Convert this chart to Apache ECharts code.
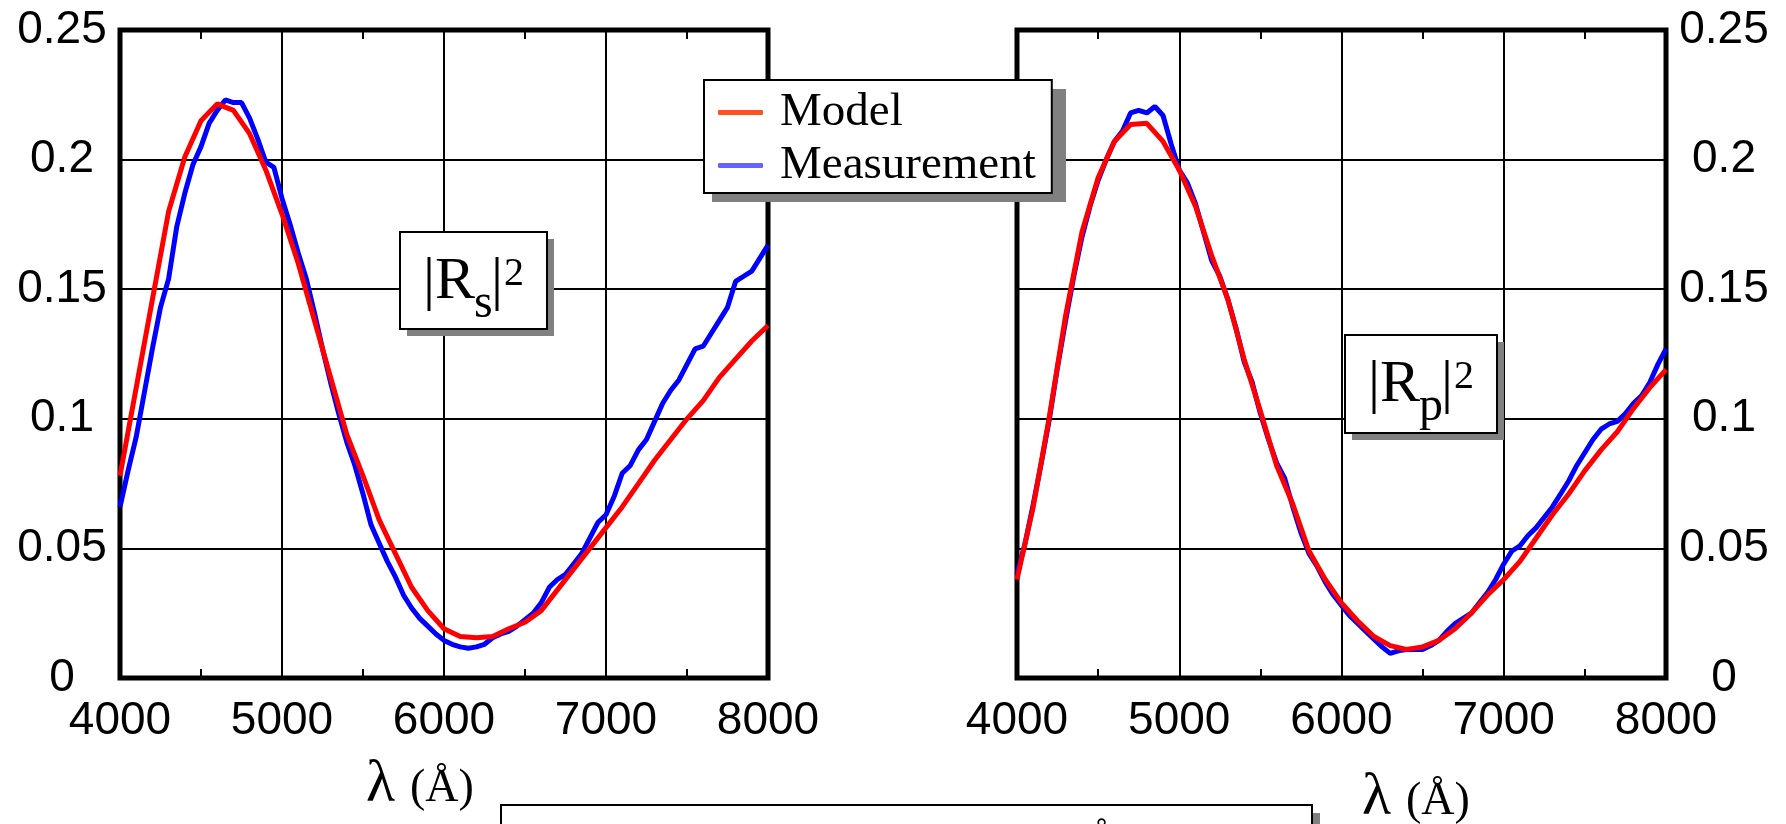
<!DOCTYPE html>
<html><head><meta charset="utf-8">
<script src="https://cdn.jsdelivr.net/npm/echarts@6/dist/echarts.min.js"></script>
<style>html,body{margin:0;padding:0;background:#fff}#c{width:1786px;height:824px}</style>
</head><body><div id="c"></div>
<script>
// ---- data ----
const wavelengthModel = [4000,4100,4200,4300,4400,4500,4600,4700,4800,4900,5000,5100,5200,5300,5400,5500,5600,5700,5800,5900,6000,6100,6200,6300,6400,6500,6600,6700,6800,6900,7000,7100,7200,7300,7400,7500,7600,7700,7800,7900,8000];
const rsModel = [0.078,0.112,0.146,0.180,0.201,0.215,0.2215,0.219,0.210,0.196,0.179,0.160,0.138,0.116,0.094,0.078,0.061,0.048,0.035,0.026,0.019,0.016,0.0155,0.016,0.019,0.0215,0.026,0.034,0.042,0.050,0.058,0.066,0.075,0.084,0.092,0.100,0.107,0.116,0.123,0.130,0.136];
const rpModel = [0.038,0.066,0.101,0.140,0.172,0.193,0.207,0.2135,0.214,0.207,0.196,0.182,0.163,0.146,0.123,0.103,0.082,0.067,0.049,0.038,0.029,0.022,0.016,0.0125,0.011,0.012,0.0145,0.019,0.025,0.032,0.038,0.045,0.054,0.063,0.071,0.080,0.088,0.095,0.104,0.112,0.119];
const wavelengthMeas = [4000,4050,4100,4150,4200,4250,4300,4350,4400,4450,4500,4550,4600,4650,4700,4750,4800,4850,4900,4950,5000,5050,5100,5150,5200,5250,5300,5350,5400,5450,5500,5550,5600,5650,5700,5750,5800,5850,5900,5950,6000,6050,6100,6150,6200,6250,6300,6350,6400,6450,6500,6550,6600,6650,6700,6750,6800,6850,6900,6950,7000,7050,7100,7150,7200,7250,7300,7350,7400,7450,7500,7550,7600,7650,7700,7750,7800,7850,7900,7950,8000];
const rsMeas = [0.066,0.080,0.093,0.110,0.127,0.143,0.154,0.174,0.187,0.198,0.205,0.214,0.219,0.223,0.222,0.222,0.216,0.208,0.199,0.197,0.185,0.175,0.164,0.154,0.141,0.127,0.114,0.102,0.091,0.082,0.071,0.059,0.052,0.045,0.039,0.032,0.027,0.023,0.020,0.017,0.0145,0.013,0.012,0.0115,0.012,0.013,0.0155,0.017,0.018,0.020,0.0225,0.025,0.029,0.035,0.038,0.040,0.044,0.048,0.054,0.060,0.063,0.070,0.079,0.082,0.088,0.092,0.099,0.106,0.111,0.115,0.121,0.127,0.128,0.133,0.138,0.143,0.153,0.155,0.157,0.162,0.167];
const rpMeas = [0.040,0.052,0.067,0.083,0.100,0.120,0.138,0.155,0.170,0.182,0.192,0.200,0.207,0.211,0.218,0.219,0.218,0.2205,0.217,0.206,0.196,0.191,0.183,0.172,0.161,0.155,0.146,0.135,0.122,0.114,0.102,0.092,0.083,0.077,0.066,0.056,0.048,0.043,0.037,0.032,0.028,0.024,0.021,0.018,0.015,0.012,0.0095,0.0105,0.011,0.011,0.011,0.0125,0.0145,0.018,0.021,0.023,0.025,0.029,0.033,0.038,0.044,0.049,0.051,0.055,0.058,0.062,0.066,0.071,0.076,0.082,0.087,0.092,0.096,0.098,0.099,0.102,0.106,0.109,0.114,0.121,0.127];
const xRange = [4000, 8000];
const xStep = 1000;
const yRange = [0, 0.25];
const yStep = 0.05;
const seriesNames = ['Model', 'Measurement'];
const panelLabels = [{base:'|R', sub:'s', bar:'|', sup:'2'}, {base:'|R', sub:'p', bar:'|', sup:'2'}];
const axisTitleMain = 'λ';
const axisTitleUnit = '(Å)';

// ---- build ----
const SANS = "'Liberation Sans', Arial, sans-serif";
const SERIF = "'Liberation Serif', 'Times New Roman', serif";
const pairs = (xs, ys) => xs.map((x, i) => [x, ys[i]]);

function xAxisDef(grid, pos) {
  const bottom = pos === 'bottom';
  return {
    gridIndex: grid, type: 'value', position: pos, min: xRange[0], max: xRange[1], interval: xStep,
    axisLine: {show: false},
    axisTick: {show: true, inside: true, length: 9, lineStyle: {color: '#000', width: 2}},
    minorTick: {show: true, splitNumber: 2, length: 9, lineStyle: {color: '#000', width: 2}},
    splitLine: {show: bottom, lineStyle: {color: '#000', width: 2}},
    axisLabel: {show: bottom, fontSize: 46, fontFamily: SANS, color: '#000', margin: 20,
      formatter: v => String(v)}
  };
}
function yAxisDef(grid, pos) {
  return {
    gridIndex: grid, type: 'value', position: pos, min: yRange[0], max: yRange[1], interval: yStep,
    axisLine: {show: false}, axisTick: {show: false},
    splitLine: {show: true, lineStyle: {color: '#000', width: 2}},
    axisLabel: {fontSize: 46, fontFamily: SANS, color: '#000', margin: 58, align: 'center',
      padding: [8, 0, 0, 0]}
  };
}

function labelBox(bx, by, w, h, lab, extra) {
  const els = [];
  els.push({type: 'rect', z: 20, shape: {x: bx + 7, y: by + 7, width: w, height: h}, style: {fill: '#808080'}});
  els.push({type: 'rect', z: 21, shape: {x: bx, y: by, width: w, height: h}, style: {fill: '#fff', stroke: '#000', lineWidth: 2}});
  const t = (txt, x, y, size) => ({type: 'text', z: 22, x: x, y: y,
    style: {text: txt, font: size + 'px ' + SERIF, fill: '#000', align: 'left', verticalAlign: 'middle'}});
  els.push(t(lab.base, bx + 23, by + 50, 60));
  els.push(t(lab.sub, bx + 74, by + 72, 48));
  els.push(t(lab.bar, bx + 91 + extra, by + 50, 60));
  els.push(t(lab.sup, bx + 104 + extra, by + 42, 40));
  return els;
}
function lambdaLabel(x, baseline) {
  return [
    {type: 'text', z: 22, x: x, y: baseline - 20, style: {text: axisTitleMain, font: '60px ' + SERIF, fill: '#000', align: 'left', verticalAlign: 'middle'}},
    {type: 'text', z: 22, x: x + 44, y: baseline - 16, style: {text: axisTitleUnit, font: '46px ' + SERIF, fill: '#000', align: 'left', verticalAlign: 'middle'}}
  ];
}

const graphics = [].concat(
  [{type: 'rect', z: 9, shape: {x: 712, y: 89, width: 354, height: 113}, style: {fill: '#808080'}}],
  labelBox(400, 232, 147, 97, panelLabels[0], 0),
  labelBox(1345, 335, 152, 98, panelLabels[1], 5),
  lambdaLabel(366, 805),
  lambdaLabel(1362, 818),
  [
    {type: 'rect', z: 20, shape: {x: 509, y: 813, width: 811, height: 60}, style: {fill: '#808080'}},
    {type: 'rect', z: 21, shape: {x: 501, y: 805, width: 811, height: 60}, style: {fill: '#fff', stroke: '#000', lineWidth: 2}},
    {type: 'text', z: 22, x: 1102, y: 821, style: {text: 'Å', font: '42px ' + SERIF, fill: '#000', align: 'center', verticalAlign: 'top'}}
  ]
);

function lineSeries(name, xi, yi, xs, ys, color, z) {
  return {type: 'line', name: name, xAxisIndex: xi, yAxisIndex: yi, data: pairs(xs, ys),
    symbol: 'none', showSymbol: false, silent: true, z: z,
    lineStyle: {color: color, width: 5}, itemStyle: {color: color}};
}

const option = {
  animation: false,
  backgroundColor: '#fff',
  grid: [
    {left: 120, top: 30, width: 648, height: 648, show: true, borderColor: '#000', borderWidth: 5, backgroundColor: 'transparent'},
    {left: 1017, top: 30, width: 649, height: 648, show: true, borderColor: '#000', borderWidth: 5, backgroundColor: 'transparent'}
  ],
  xAxis: [xAxisDef(0, 'bottom'), xAxisDef(0, 'top'), xAxisDef(1, 'bottom'), xAxisDef(1, 'top')],
  yAxis: [yAxisDef(0, 'left'), yAxisDef(1, 'right')],
  legend: {
    orient: 'vertical', left: 704, top: 80, z: 10, selectedMode: false,
    padding: [9, 16, 4, 14], itemWidth: 45, itemHeight: 5, itemGap: 6, icon: 'roundRect',
    backgroundColor: '#fff', borderColor: '#000', borderWidth: 2, borderRadius: 0,
    textStyle: {fontFamily: SERIF, fontSize: 47, color: '#000', padding: [0, 0, 0, 12]},
    data: [
      {name: seriesNames[0], itemStyle: {color: '#ff5020'}},
      {name: seriesNames[1], itemStyle: {color: '#6464ff'}}
    ]
  },
  graphic: {elements: graphics},
  series: [
    lineSeries(seriesNames[1], 0, 0, wavelengthMeas, rsMeas, '#0000ff', 3),
    lineSeries(seriesNames[0], 0, 0, wavelengthModel, rsModel, '#ff0000', 4),
    lineSeries(seriesNames[1], 2, 1, wavelengthMeas, rpMeas, '#0000ff', 3),
    lineSeries(seriesNames[0], 2, 1, wavelengthModel, rpModel, '#ff0000', 4)
  ]
};
const chart = echarts.init(document.getElementById('c'), null, {renderer: 'canvas'});
chart.setOption(option);
</script>
</body></html>
